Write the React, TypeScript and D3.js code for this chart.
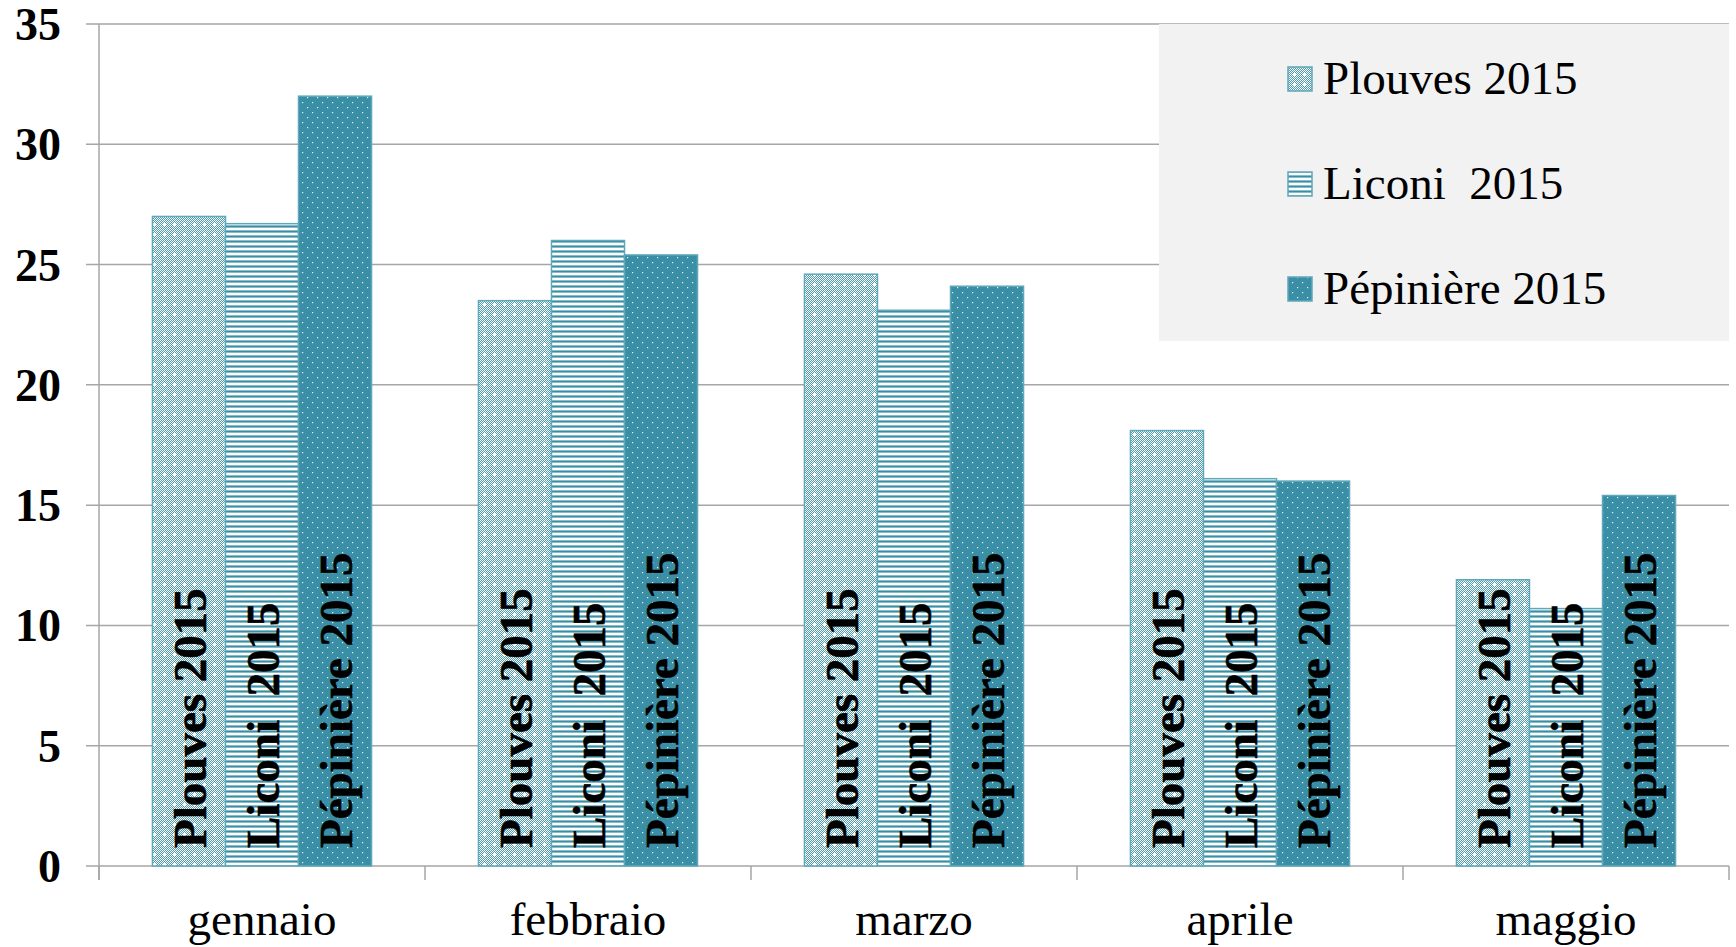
import React from "react";
import * as d3 from "d3";

const categories = ["gennaio", "febbraio", "marzo", "aprile", "maggio"];
const seriesNames = ["Plouves 2015", "Liconi  2015", "Pépinière 2015"];
const plouves = [27.0, 23.5, 24.6, 18.1, 11.9];
const liconi = [26.7, 26.0, 23.1, 16.1, 10.7];
const pepiniere = [32.0, 25.4, 24.1, 16.0, 15.4];
const yTicks = [0, 5, 10, 15, 20, 25, 30, 35];

const seriesValues = [plouves, liconi, pepiniere];
const patternIds = ["pPlouves", "pLiconi", "pPepi"];

const W = 1736;
const H = 947;
const FONT = "'Liberation Serif', 'Times New Roman', serif";
const TEAL = "#3A8EA5";
const EDGE = "#5EA8BA";

export default function App() {
  const left = 99;
  const right = 1729;
  const top = 24;
  const bottom = 866;

  const y = d3.scaleLinear().domain([0, 35]).range([bottom, top]);
  const x0 = d3.scaleBand().domain(categories).range([left, right]).paddingInner(0).paddingOuter(0);
  const groupW = x0.bandwidth() * 0.672;
  const x1 = d3
    .scaleBand()
    .domain(seriesNames)
    .range([0, groupW])
    .padding(0);

  const catBoundaries = categories.map((c) => x0(c) as number).concat([right]);

  return (
    <svg
      width={W}
      height={H}
      style={{ position: "absolute", left: 0, top: 0, background: "#fff" }}
      fontFamily={FONT}
    >
      <defs>
        <pattern id="checker" width={2} height={2} patternUnits="userSpaceOnUse">
          <rect width={2} height={2} fill="#4E9CB0" />
          <rect x={0} y={0} width={1} height={1} fill="#ffffff" />
          <rect x={1} y={1} width={1} height={1} fill="#ffffff" />
        </pattern>
        <pattern id="pPlouves" width={10} height={10} patternUnits="userSpaceOnUse">
          <rect width={10} height={10} fill="url(#checker)" />
          <rect x={4} y={3} width={1} height={3} fill="#ffffff" />
          <rect x={3} y={4} width={3} height={1} fill="#ffffff" />
        </pattern>
        <pattern id="pLiconi" width={5} height={5} patternUnits="userSpaceOnUse">
          <rect width={5} height={5} fill="#ffffff" />
          <rect x={0} y={0} width={5} height={1} fill="#86BDCB" />
          <rect x={0} y={1} width={5} height={1.6} fill={TEAL} />
        </pattern>
        <pattern id="pPepi" width={10} height={10} patternUnits="userSpaceOnUse">
          <rect width={10} height={10} fill={TEAL} />
          <rect x={2} y={2} width={1.2} height={1.2} fill="#e8f3f6" />
          <rect x={7} y={7} width={1.2} height={1.2} fill="#e8f3f6" />
        </pattern>
      </defs>

      {/* gridlines */}
      {yTicks.map((t) => (
        <line
          key={"g" + t}
          x1={86}
          x2={right}
          y1={y(t)}
          y2={y(t)}
          stroke="#A6A6A6"
          strokeWidth={1.5}
        />
      ))}

      {/* y axis line */}
      <line x1={left} x2={left} y1={top} y2={bottom + 14} stroke="#A6A6A6" strokeWidth={1.5} />
      {/* category ticks */}
      {catBoundaries.map((bx, i) => (
        <line
          key={"ct" + i}
          x1={bx}
          x2={bx}
          y1={bottom}
          y2={bottom + 14}
          stroke="#A6A6A6"
          strokeWidth={1.5}
        />
      ))}

      {/* y tick labels */}
      {yTicks.map((t) => (
        <text
          key={"yl" + t}
          x={61}
          y={y(t) + 16}
          textAnchor="end"
          fontSize={46}
          fontWeight="bold"
          fill="#000"
        >
          {t}
        </text>
      ))}

      {/* legend */}
      <rect x={1159} y={24} width={570} height={317} fill="#F2F2F2" />
      {seriesNames.map((s, i) => {
        const cy = 79 + i * 105;
        return (
          <g key={"lg" + i}>
            <rect
              x={1288}
              y={cy - 12}
              width={24}
              height={24}
              fill={`url(#${patternIds[i]})`}
              stroke={EDGE}
              strokeWidth={1.5}
            />
            <text
              x={1323}
              y={cy + 15}
              fontSize={47}
              fill="#000"
              style={{ whiteSpace: "pre" }}
              xmlSpace="preserve"
            >
              {s}
            </text>
          </g>
        );
      })}

      {/* bars */}
      {categories.map((c, ci) => {
        const gx = (x0(c) as number) + (x0.bandwidth() - groupW) / 2;
        return (
          <g key={"cat" + c}>
            {seriesNames.map((s, si) => {
              const v = seriesValues[si][ci];
              const bx = gx + (x1(s) as number);
              return (
                <rect
                  key={"b" + si}
                  x={bx}
                  y={y(v)}
                  width={x1.bandwidth()}
                  height={bottom - y(v)}
                  fill={`url(#${patternIds[si]})`}
                  stroke={EDGE}
                  strokeWidth={1.5}
                />
              );
            })}
          </g>
        );
      })}

      {/* in-bar labels */}
      {categories.map((c, ci) => {
        const gx = (x0(c) as number) + (x0.bandwidth() - groupW) / 2;
        return (
          <g key={"lab" + c}>
            {seriesNames.map((s, si) => {
              const cx = gx + (x1(s) as number) + x1.bandwidth() / 2;
              const bx = cx + 17;
              const by = bottom - 18;
              return (
                <text
                  key={"t" + si}
                  transform={`translate(${bx},${by}) rotate(-90)`}
                  fontSize={47}
                  fontWeight="bold"
                  fill="#000"
                  stroke="#000"
                  strokeWidth={0.6}
                  style={{ whiteSpace: "pre" }}
                  xmlSpace="preserve"
                >
                  {s}
                </text>
              );
            })}
          </g>
        );
      })}

      {/* x labels */}
      {categories.map((c) => (
        <text
          key={"xl" + c}
          x={(x0(c) as number) + x0.bandwidth() / 2}
          y={935}
          textAnchor="middle"
          fontSize={47}
          fill="#000"
        >
          {c}
        </text>
      ))}
    </svg>
  );
}
